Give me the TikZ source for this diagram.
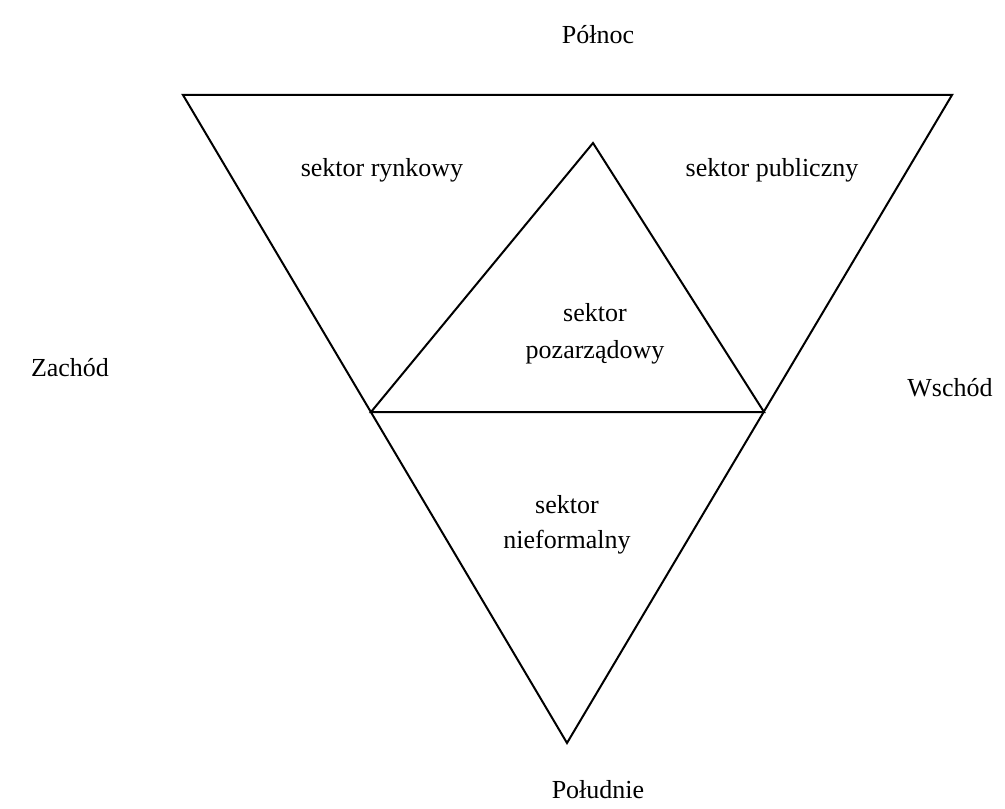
\documentclass[tikz,border=0pt]{standalone}
\usepackage{fontspec}
\setmainfont{Liberation Serif}
\begin{document}
\begin{tikzpicture}[x=0.5pt,y=-0.5pt,
  lbl/.style={font=\fontsize{13}{15}\selectfont, inner sep=0pt},
  edge/.style={line width=1pt, line join=miter}]
\useasboundingbox (0,0) rectangle (1005,808);
% outer (inverted) triangle
\coordinate (nw) at (183,95);
\coordinate (ne) at (952,95);
\coordinate (s)  at (567,743);
% inner triangle, its base ends resting on the outer sides
\coordinate (apex) at (593,143);
\coordinate (bl)   at (371,412);
\coordinate (br)   at (764,412);
\draw[edge] (nw) -- (ne) -- (s) -- cycle;
\draw[edge] (apex) -- (br) -- (bl) -- cycle;
% compass labels
\node[lbl] (north) at (598,35)  {Północ};
\node[lbl] (south) at (598,790) {Południe};
\node[lbl] (west)  at (70,368)  {Zachód};
\node[lbl] (east)  at (950,388) {Wschód};
% sector labels
\node[lbl] (market) at (382,170) {sektor rynkowy};
\node[lbl] (public) at (772,170) {sektor publiczny};
\node[lbl] (ngo1) at (595,313) {sektor};
\node[lbl] (ngo2) at (595,352) {pozarządowy};
\node[lbl] (inf1) at (567,505) {sektor};
\node[lbl] (inf2) at (567,542) {nieformalny};
\end{tikzpicture}
\end{document}
